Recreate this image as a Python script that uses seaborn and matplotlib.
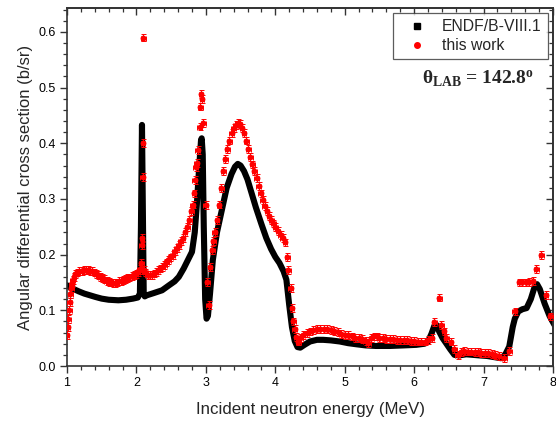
import matplotlib
matplotlib.use("Agg")
import matplotlib.pyplot as plt
import seaborn as sns
import pandas as pd
from matplotlib.lines import Line2D
from matplotlib.ticker import MultipleLocator

# ---------------- data ----------------
endf_energy = [1.00, 1.05, 1.10, 1.17, 1.25, 1.33, 1.41, 1.50, 1.60, 1.74, 1.85, 1.95, 2.02, 2.05,
               2.065, 2.08, 2.095, 2.105, 2.12, 2.15, 2.25, 2.37, 2.47, 2.55, 2.61, 2.68, 2.74,
               2.80, 2.84, 2.87, 2.90, 2.93, 2.94, 2.955, 2.97, 2.99, 3.01, 3.03, 3.06, 3.10,
               3.16, 3.23, 3.30, 3.37, 3.42, 3.46, 3.50, 3.55, 3.60, 3.66, 3.72, 3.80, 3.87,
               3.94, 4.00, 4.06, 4.12, 4.16, 4.20, 4.24, 4.28, 4.32, 4.36, 4.42, 4.50, 4.60,
               4.69, 4.80, 4.93, 5.05, 5.17, 5.30, 5.45, 5.65, 5.85, 6.03, 6.15, 6.20, 6.25,
               6.29, 6.32, 6.36, 6.41, 6.46, 6.52, 6.58, 6.65, 6.75, 6.85, 6.94, 7.05, 7.15,
               7.25, 7.31, 7.37, 7.42, 7.45, 7.50, 7.56, 7.62, 7.68, 7.73, 7.77, 7.81, 7.88,
               7.95, 8.02]
endf_xs = [0.145, 0.141, 0.138, 0.134, 0.130, 0.127, 0.124, 0.121, 0.119, 0.118, 0.119, 0.121,
           0.123, 0.130, 0.250, 0.433, 0.250, 0.130, 0.125, 0.127, 0.131, 0.136, 0.145, 0.152,
           0.160, 0.175, 0.190, 0.205, 0.240, 0.290, 0.350, 0.405, 0.409, 0.380, 0.250, 0.120,
           0.085, 0.090, 0.130, 0.190, 0.240, 0.280, 0.320, 0.345, 0.358, 0.363, 0.360, 0.350,
           0.335, 0.310, 0.285, 0.255, 0.230, 0.210, 0.196, 0.185, 0.170, 0.155, 0.110, 0.070,
           0.045, 0.034, 0.033, 0.038, 0.044, 0.047, 0.047, 0.046, 0.044, 0.041, 0.039, 0.037,
           0.036, 0.036, 0.037, 0.038, 0.040, 0.044, 0.058, 0.072, 0.074, 0.062, 0.050, 0.041,
           0.030, 0.020, 0.019, 0.021, 0.020, 0.019, 0.018, 0.016, 0.014, 0.020, 0.035, 0.070,
           0.085, 0.098, 0.102, 0.104, 0.120, 0.140, 0.147, 0.138, 0.112, 0.090, 0.074]

work_energy = [1.00, 1.01, 1.02, 1.03, 1.04, 1.05, 1.06, 1.07, 1.08, 1.10, 1.12, 1.15, 1.18,
               1.21, 1.24, 1.27, 1.30, 1.33, 1.36, 1.39, 1.42, 1.45, 1.48, 1.51, 1.54, 1.57,
               1.60, 1.63, 1.66, 1.69, 1.72, 1.75, 1.78, 1.81, 1.84, 1.87, 1.90, 1.93, 1.96,
               1.99, 2.02, 2.05, 2.07, 2.075, 2.08, 2.085, 2.09, 2.095, 2.10, 2.11, 2.13, 2.16,
               2.19, 2.22, 2.25, 2.28, 2.31, 2.34, 2.37, 2.40, 2.43, 2.46, 2.49, 2.52, 2.55,
               2.58, 2.61, 2.64, 2.67, 2.70, 2.73, 2.76, 2.79, 2.81, 2.83, 2.84, 2.855, 2.87,
               2.885, 2.91, 2.92, 2.93, 2.945, 2.96, 3.00, 3.02, 3.04, 3.06, 3.09, 3.11, 3.13,
               3.16, 3.19, 3.22, 3.25, 3.28, 3.31, 3.34, 3.37, 3.40, 3.43, 3.46, 3.49, 3.52,
               3.55, 3.58, 3.61, 3.64, 3.67, 3.70, 3.73, 3.76, 3.79, 3.82, 3.85, 3.88, 3.91,
               3.94, 3.97, 4.00, 4.04, 4.08, 4.11, 4.14, 4.17, 4.19, 4.22, 4.24, 4.26, 4.28,
               4.30, 4.33, 4.36, 4.40, 4.45, 4.50, 4.55, 4.60, 4.65, 4.70, 4.75, 4.80, 4.85,
               4.90, 4.95, 5.00, 5.05, 5.10, 5.15, 5.20, 5.25, 5.30, 5.34, 5.38, 5.42, 5.46,
               5.50, 5.55, 5.60, 5.65, 5.70, 5.75, 5.80, 5.85, 5.90, 5.95, 6.00, 6.05, 6.10,
               6.15, 6.20, 6.25, 6.29, 6.36, 6.39, 6.43, 6.46, 6.53, 6.58, 6.63, 6.68, 6.72,
               6.77, 6.82, 6.87, 6.92, 6.97, 7.02, 7.07, 7.12, 7.17, 7.22, 7.30, 7.37, 7.45,
               7.51, 7.56, 7.61, 7.66, 7.71, 7.76, 7.83, 7.90, 7.96]
work_xs = [0.055, 0.070, 0.085, 0.100, 0.115, 0.130, 0.140, 0.148, 0.155, 0.160, 0.165, 0.168,
           0.170, 0.171, 0.172, 0.172, 0.172, 0.171, 0.170, 0.168, 0.165, 0.163, 0.160, 0.158,
           0.156, 0.153, 0.151, 0.150, 0.149, 0.149, 0.150, 0.152, 0.153, 0.155, 0.156, 0.158,
           0.159, 0.161, 0.163, 0.165, 0.168, 0.175, 0.185, 0.218, 0.230, 0.173, 0.340, 0.400,
           0.590, 0.172, 0.168, 0.164, 0.163, 0.164, 0.166, 0.169, 0.172, 0.175, 0.178, 0.182,
           0.186, 0.190, 0.195, 0.200, 0.206, 0.212, 0.218, 0.224, 0.230, 0.240, 0.250, 0.262,
           0.278, 0.290, 0.310, 0.334, 0.358, 0.364, 0.388, 0.430, 0.466, 0.488, 0.480, 0.436,
           0.289, 0.151, 0.110, 0.178, 0.208, 0.224, 0.240, 0.262, 0.290, 0.320, 0.350, 0.372,
           0.390, 0.405, 0.418, 0.427, 0.433, 0.436, 0.434, 0.427, 0.418, 0.405, 0.390, 0.375,
           0.362, 0.350, 0.338, 0.323, 0.310, 0.298, 0.288, 0.278, 0.270, 0.262, 0.256, 0.250,
           0.242, 0.235, 0.230, 0.222, 0.196, 0.172, 0.140, 0.104, 0.080, 0.066, 0.052, 0.044,
           0.050, 0.056, 0.059, 0.062, 0.064, 0.066, 0.067, 0.067, 0.066, 0.065, 0.063, 0.061,
           0.058, 0.056, 0.055, 0.053, 0.051, 0.050, 0.049, 0.045, 0.041, 0.050, 0.053, 0.053,
           0.051, 0.050, 0.049, 0.048, 0.048, 0.047, 0.047, 0.046, 0.046, 0.045, 0.045, 0.044,
           0.044, 0.044, 0.046, 0.050, 0.079, 0.123, 0.074, 0.062, 0.050, 0.044, 0.030, 0.020,
           0.025, 0.027, 0.026, 0.026, 0.025, 0.025, 0.024, 0.023, 0.023, 0.022, 0.020, 0.018,
           0.014, 0.027, 0.098, 0.150, 0.150, 0.150, 0.151, 0.152, 0.174, 0.199, 0.128, 0.089]

work_xerr = 0.035
work_yerr = 0.007

x_ticks = [1, 2, 3, 4, 5, 6, 7, 8]
y_ticks = [0.0, 0.1, 0.2, 0.3, 0.4, 0.5, 0.6]

endf = pd.DataFrame({"E": endf_energy, "xs": endf_xs})
work = pd.DataFrame({"E": work_energy, "xs": work_xs})

# ---------------- style ----------------
sns.set_style("ticks")
plt.rcParams["font.family"] = ["Liberation Sans", "DejaVu Sans"]
plt.rcParams["mathtext.fontset"] = "custom"
plt.rcParams["mathtext.rm"] = "Liberation Serif:bold"
plt.rcParams["mathtext.it"] = "Liberation Serif:bold"
plt.rcParams["mathtext.bf"] = "Liberation Serif:bold"

fig = plt.figure(figsize=(5.56, 4.23), dpi=100)
ax = fig.add_axes([67 / 556, 57 / 423, 486 / 556, 358 / 423])

sns.lineplot(data=endf, x="E", y="xs", sort=False, color="black", lw=4.4, ax=ax,
             legend=False, zorder=2)
ax.errorbar(work["E"], work["xs"], xerr=work_xerr, yerr=work_yerr, fmt="none",
            ecolor="red", elinewidth=0.7, capsize=1.8, capthick=0.7, zorder=3)
sns.scatterplot(data=work, x="E", y="xs", color="red", s=18, edgecolor="red",
                linewidth=0, ax=ax, zorder=4, legend=False)

ax.set_xlim(1, 8)
ax.set_ylim(0, 0.643)
ax.set_xticks(x_ticks)
ax.set_yticks(y_ticks)
ax.set_xticklabels([str(v) for v in x_ticks])
ax.set_yticklabels([f"{v:.1f}" for v in y_ticks])
ax.xaxis.set_minor_locator(MultipleLocator(0.2))
ax.yaxis.set_minor_locator(MultipleLocator(0.02))
ax.tick_params(which="major", direction="out", length=5, width=1.0, labelsize=9,
               colors="#333333", labelcolor="black", pad=3)
ax.tick_params(which="minor", direction="out", length=3, width=0.9, colors="#333333")
for s in ax.spines.values():
    s.set_linewidth(1.2)
    s.set_color("#333333")

# mirrored inward ticks on top/right
top = ax.secondary_xaxis("top")
top.set_xticks(x_ticks)
top.xaxis.set_minor_locator(MultipleLocator(0.2))
top.tick_params(which="major", direction="in", length=5, width=1.0, labeltop=False,
                colors="#333333")
top.tick_params(which="minor", direction="in", length=3, width=0.9, colors="#333333")
top.spines["top"].set_linewidth(1.2)
right = ax.secondary_yaxis("right")
right.set_yticks(y_ticks)
right.yaxis.set_minor_locator(MultipleLocator(0.02))
right.tick_params(which="major", direction="in", length=5, width=1.0, labelright=False,
                  colors="#333333")
right.tick_params(which="minor", direction="in", length=3, width=0.9, colors="#333333")
right.spines["right"].set_linewidth(1.2)

ax.set_xlabel("Incident neutron energy (MeV)", fontsize=12.2, labelpad=9)
ax.set_ylabel("Angular differential cross section (b/sr)", fontsize=12, labelpad=4)

handles = [Line2D([], [], ls="none", marker="s", color="black", markersize=4),
           Line2D([], [], ls="none", marker="o", color="red", markersize=4)]
leg = ax.legend(handles, ["ENDF/B-VIII.1", "this work"], loc="upper right",
                bbox_to_anchor=(0.99, 0.986), fontsize=11.3, frameon=True, fancybox=False,
                edgecolor="#333333", handlelength=2.3, handletextpad=0.45,
                borderpad=0.4, labelspacing=0.25, borderaxespad=0)
leg.get_frame().set_linewidth(0.9)

ax.text(0.73, 0.802, r"$\theta_{LAB}$ = 142.8$^{o}$", transform=ax.transAxes,
        fontsize=14, fontfamily="Liberation Serif", fontweight="bold",
        ha="left", va="center")

fig.savefig("out.png", dpi=100)
